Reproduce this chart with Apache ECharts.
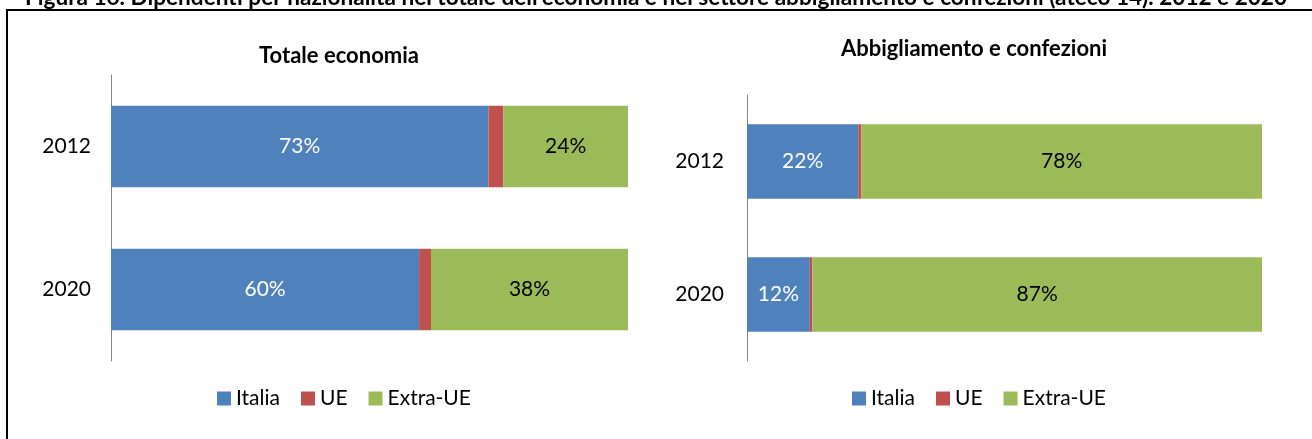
<!DOCTYPE html>
<html>
<head>
<meta charset="utf-8">
<script src="https://cdn.jsdelivr.net/npm/echarts@6/dist/echarts.min.js"></script>
<style>
  html, body { margin: 0; padding: 0; background: #fff; }
  #chart { width: 1312px; height: 439px; }
</style>
</head>
<body>
<div id="chart"></div>
<script>
var years = ['2012', '2020']
var seriesNames = ['Italia', 'UE', 'Extra-UE']
// Totale economia (%)
var totItalia = [73.0, 59.6]
var totUE = [2.9, 2.3]
var totExtra = [24.1, 38.1]
// Abbigliamento e confezioni (%)
var abbItalia = [21.6, 12.2]
var abbUE = [0.6, 0.5]
var abbExtra = [77.8, 87.3]

var colors = ['#4F81BD', '#C0504D', '#9BBB59']
var labelColors = ['#ffffff', null, '#000000']
var font = 'Lato, "Liberation Sans", sans-serif'

function makeSeries(values, gridIdx) {
  return values.map(function (vals, i) {
    return {
      name: seriesNames[i],
      type: 'bar',
      stack: 'g' + gridIdx,
      xAxisIndex: gridIdx,
      yAxisIndex: gridIdx,
      barWidth: gridIdx === 0 ? '57%' : '56%',
      itemStyle: { color: colors[i] },
      label: {
        show: labelColors[i] !== null,
        position: 'inside',
        color: labelColors[i] || '#000',
        fontFamily: font,
        fontSize: 21,
        formatter: function (p) { return Math.round(p.value) + '%' }
      },
      data: vals
    }
  })
}

var chart = echarts.init(document.getElementById('chart'))
var option = {
  animation: false,
  textStyle: { fontFamily: font },
  color: colors,
  title: [
    {
      text: 'Totale economia', left: 334, top: 40, textAlign: 'center',
      textStyle: { fontFamily: font, fontSize: 22, fontWeight: 'bold', color: '#000' }
    },
    {
      text: 'Abbigliamento e confezioni', left: 969, top: 33, textAlign: 'center',
      textStyle: { fontFamily: font, fontSize: 22, fontWeight: 'bold', color: '#000' }
    }
  ],
  legend: [
    {
      left: 212, top: 383, itemWidth: 14, itemHeight: 14, itemGap: 21,
      icon: 'rect', data: seriesNames,
      textStyle: { fontFamily: font, fontSize: 21, color: '#000' }
    },
    {
      left: 847, top: 383, itemWidth: 14, itemHeight: 14, itemGap: 21,
      icon: 'rect', data: seriesNames,
      textStyle: { fontFamily: font, fontSize: 21, color: '#000' }
    }
  ],
  grid: [
    { left: 111, top: 75, width: 517, height: 286 },
    { left: 747, top: 95, width: 515, height: 266 }
  ],
  xAxis: [0, 1].map(function (i) {
    return {
      type: 'value', gridIndex: i, min: 0, max: 100, show: false
    }
  }),
  yAxis: [0, 1].map(function (i) {
    return {
      type: 'category', gridIndex: i, data: years, inverse: true,
      axisLine: { show: true, lineStyle: { color: '#868686', width: 1 } },
      axisTick: { show: false },
      axisLabel: { fontFamily: font, fontSize: 21, color: '#000', margin: i === 0 ? 20 : 23 },
      splitLine: { show: false }
    }
  }),
  graphic: [
    {
      type: 'polyline',
      shape: { points: [[7, 439], [7, 10], [1312, 10]] },
      style: { stroke: '#000', lineWidth: 2, fill: null }
    },
    {
      type: 'text',
      left: 25, top: -14,
      style: {
        text: 'Figura 16. Dipendenti per nazionalità nel totale dell\u2019economia e nel settore abbigliamento e confezioni (ateco 14). 2012 e 2020',
        font: 'bold 22.6px ' + font,
        fill: '#000'
      }
    }
  ],
  series: makeSeries([totItalia, totUE, totExtra], 0)
    .concat(makeSeries([abbItalia, abbUE, abbExtra], 1))
}
chart.setOption(option)
</script>
</body>
</html>
